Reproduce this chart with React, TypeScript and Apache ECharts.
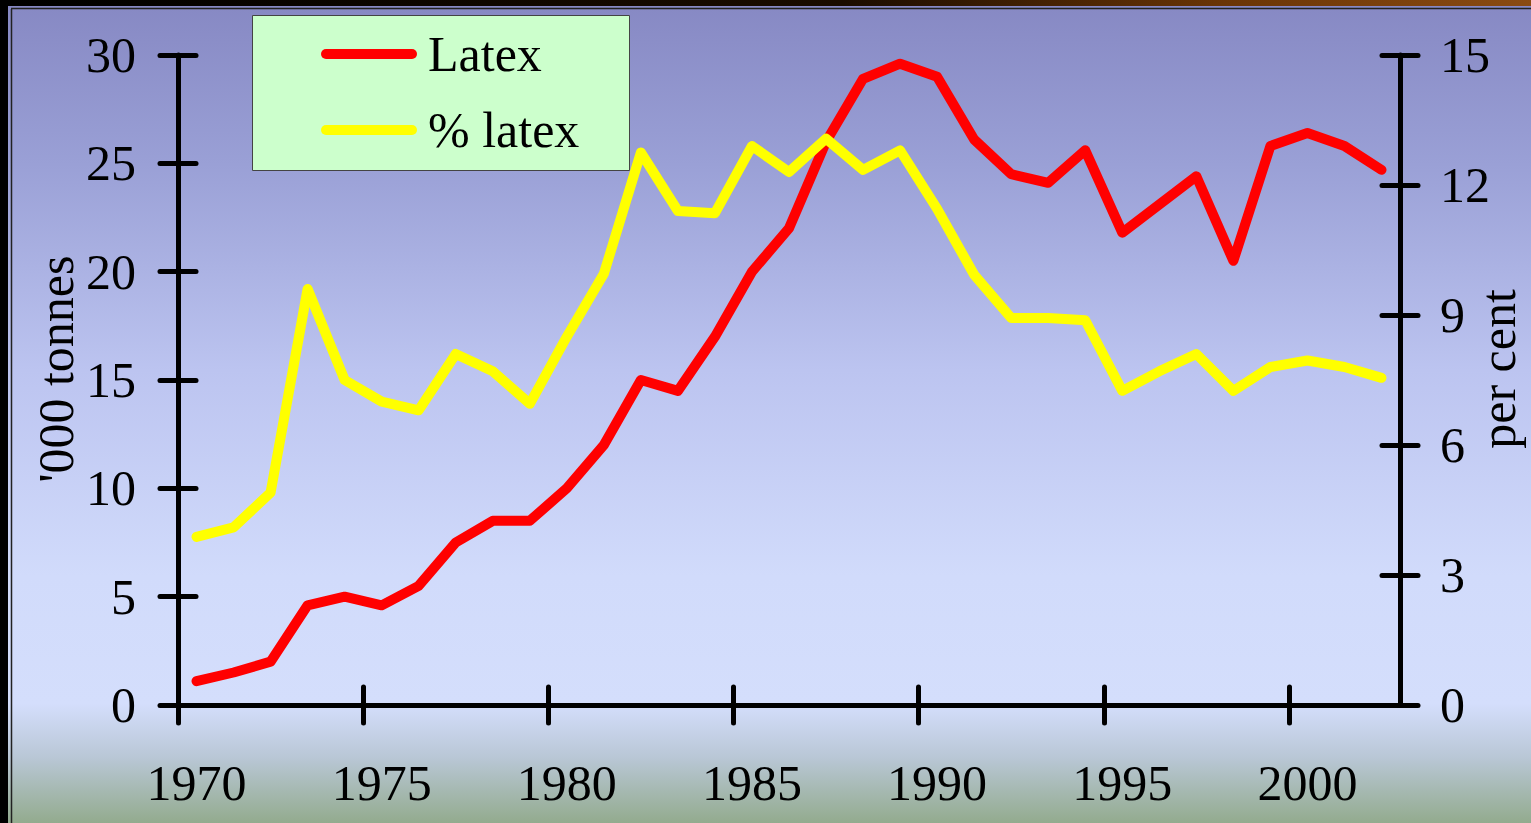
import React, { useEffect, useRef } from "react";
import * as echarts from "echarts";

const years = [1970, 1971, 1972, 1973, 1974, 1975, 1976, 1977, 1978, 1979, 1980, 1981, 1982, 1983, 1984, 1985, 1986, 1987, 1988, 1989, 1990, 1991, 1992, 1993, 1994, 1995, 1996, 1997, 1998, 1999, 2000, 2001, 2002];
const latexTonnes = [1.1, 1.5, 2.0, 4.6, 5.0, 4.6, 5.5, 7.5, 8.5, 8.5, 10.0, 12.0, 15.0, 14.5, 17.0, 20.0, 22.0, 26.0, 28.9, 29.6, 29.0, 26.1, 24.5, 24.1, 25.6, 21.8, 23.1, 24.4, 20.5, 25.8, 26.4, 25.8, 24.7];
const pctLatex = [3.88, 4.1, 4.9, 9.6, 7.5, 7.0, 6.8, 8.1, 7.7, 6.95, 8.5, 9.95, 12.75, 11.4, 11.35, 12.9, 12.3, 13.07, 12.35, 12.8, 11.45, 9.93, 8.93, 8.93, 8.88, 7.25, 7.7, 8.1, 7.25, 7.8, 7.95, 7.8, 7.55];
const labelYears = [1970, 1975, 1980, 1985, 1990, 1995, 2000];
const seriesNames = ["Latex", "% latex"];
const leftAxisName = "'000 tonnes";
const rightAxisName = "per cent";

const FONT = "'Liberation Serif', 'Times New Roman', Times, serif";

export default function App() {
  const ref = useRef<HTMLDivElement>(null);

  useEffect(() => {
    if (!ref.current) return;
    const chart = echarts.init(ref.current, undefined, { renderer: "svg" });
    const tickYears = labelYears.map((y) => y - 0.5);
    const xMin = years[0] - 0.5;
    const xMax = years[years.length - 1] + 0.5;
    const black = "#000";
    const tickStyle = { color: black, width: 5, cap: "round" as const };
    const labelStyle = { fontSize: 50, fontFamily: FONT, color: black };
    const gridRect = { left: 178, right: 131, top: 55, bottom: 118, containLabel: false, outerBoundsMode: "none" };

    const option: any = {
      animation: false,
      backgroundColor: new echarts.graphic.LinearGradient(0, 0, 0, 1, [
        { offset: 0, color: "#8688c3" },
        { offset: 0.2, color: "#9aa0d6" },
        { offset: 0.45, color: "#bcc4f0" },
        { offset: 0.7, color: "#d1dbfb" },
        { offset: 0.855, color: "#d4defc" },
        { offset: 0.92, color: "#b9c7d6" },
        { offset: 1, color: "#93ab8e" },
      ]),
      graphic: [
        { type: "rect", left: 0, top: 0, shape: { width: 8, height: 823 }, style: { fill: "#000" }, z: 10 },
        {
          type: "rect",
          left: 0,
          top: 0,
          shape: { width: 1531, height: 6 },
          style: {
            fill: new echarts.graphic.LinearGradient(0, 0, 1, 0, [
              { offset: 0, color: "#000" },
              { offset: 0.55, color: "#1a0c00" },
              { offset: 0.8, color: "#6a3506" },
              { offset: 1, color: "#8a4b12" },
            ]),
          },
          z: 10,
        },
        { type: "line", shape: { x1: 11.5, y1: 9, x2: 11.5, y2: 823 }, style: { stroke: "#222", lineWidth: 1.5 }, z: 10 },
        { type: "line", shape: { x1: 11, y1: 8.5, x2: 1531, y2: 8.5 }, style: { stroke: "#222", lineWidth: 1.5 }, z: 10 },
        {
          type: "rect",
          left: 252,
          top: 15,
          shape: { width: 377, height: 155 },
          style: { fill: "#ccffcc", stroke: "#444", lineWidth: 1 },
          z: 3,
        },
      ],
      legend: {
        data: seriesNames,
        orient: "vertical",
        left: 316,
        top: 24,
        itemWidth: 96,
        itemHeight: 10,
        itemGap: 26,
        icon: "path://M5,0L91,0A5,5,0,0,1,91,10L5,10A5,5,0,0,1,5,0Z",
        textStyle: { ...labelStyle, lineHeight: 50, padding: [0, 0, 0, 6] },
        z: 5,
      },
      grid: [{ ...gridRect }, { ...gridRect }],
      xAxis: [
        {
          type: "value",
          gridIndex: 0,
          min: xMin,
          max: xMax,
          position: "bottom",
          axisLine: { show: true, onZero: false, lineStyle: { color: black, width: 5 } },
          axisTick: { show: true, inside: false, length: 18, customValues: tickYears, lineStyle: tickStyle },
          axisLabel: { ...labelStyle, margin: 53, customValues: labelYears, formatter: (v: number) => String(v) },
          splitLine: { show: false },
        },
        {
          type: "value",
          gridIndex: 1,
          min: xMin,
          max: xMax,
          position: "bottom",
          axisLine: { show: false, onZero: false },
          axisTick: { show: true, inside: true, length: 18, customValues: tickYears, lineStyle: tickStyle },
          axisLabel: { show: false },
          splitLine: { show: false },
        },
      ],
      yAxis: [
        {
          type: "value",
          gridIndex: 0,
          position: "left",
          min: 0,
          max: 30,
          interval: 5,
          name: leftAxisName,
          nameLocation: "middle",
          nameRotate: 90,
          nameGap: 97,
          nameMoveOverlap: false,
          nameTextStyle: { ...labelStyle, padding: [0, 0, 0, 22] },
          axisLine: { show: true, onZero: false, lineStyle: { color: black, width: 5 } },
          axisTick: { show: true, inside: false, length: 18, lineStyle: tickStyle },
          axisLabel: { ...labelStyle, margin: 42 },
          splitLine: { show: false },
        },
        {
          type: "value",
          gridIndex: 0,
          position: "right",
          min: 0,
          max: 15,
          interval: 3,
          name: rightAxisName,
          nameLocation: "middle",
          nameRotate: 90,
          nameGap: 73,
          nameMoveOverlap: false,
          nameTextStyle: { ...labelStyle, padding: [0, 0, 0, 22] },
          axisLine: { show: true, onZero: false, lineStyle: { color: black, width: 5 } },
          axisTick: { show: true, inside: false, length: 18, lineStyle: tickStyle },
          axisLabel: { ...labelStyle, margin: 40 },
          splitLine: { show: false },
        },
        {
          type: "value",
          gridIndex: 1,
          position: "left",
          min: 0,
          max: 30,
          interval: 5,
          axisLine: { show: false, onZero: false },
          axisTick: { show: true, inside: true, length: 18, lineStyle: tickStyle },
          axisLabel: { show: false },
          splitLine: { show: false },
        },
        {
          type: "value",
          gridIndex: 1,
          position: "right",
          min: 0,
          max: 15,
          interval: 3,
          axisLine: { show: false, onZero: false },
          axisTick: { show: true, inside: true, length: 18, lineStyle: tickStyle },
          axisLabel: { show: false },
          splitLine: { show: false },
        },
      ],
      series: [
        {
          name: seriesNames[0],
          type: "line",
          xAxisIndex: 0,
          yAxisIndex: 0,
          data: years.map((y, i) => [y, latexTonnes[i]]),
          showSymbol: false,
          symbol: "none",
          lineStyle: { color: "#ff0000", width: 10, cap: "round", join: "round" },
          itemStyle: { color: "#ff0000" },
          z: 2,
        },
        {
          name: seriesNames[1],
          type: "line",
          xAxisIndex: 0,
          yAxisIndex: 1,
          data: years.map((y, i) => [y, pctLatex[i]]),
          showSymbol: false,
          symbol: "none",
          lineStyle: { color: "#ffff00", width: 10, cap: "round", join: "round" },
          itemStyle: { color: "#ffff00" },
          z: 3,
        },
      ],
    };
    chart.setOption(option);
    return () => chart.dispose();
  }, []);

  return (
    <div
      ref={ref}
      style={{ position: "absolute", left: 0, top: 0, width: 1531, height: 823 }}
    />
  );
}
